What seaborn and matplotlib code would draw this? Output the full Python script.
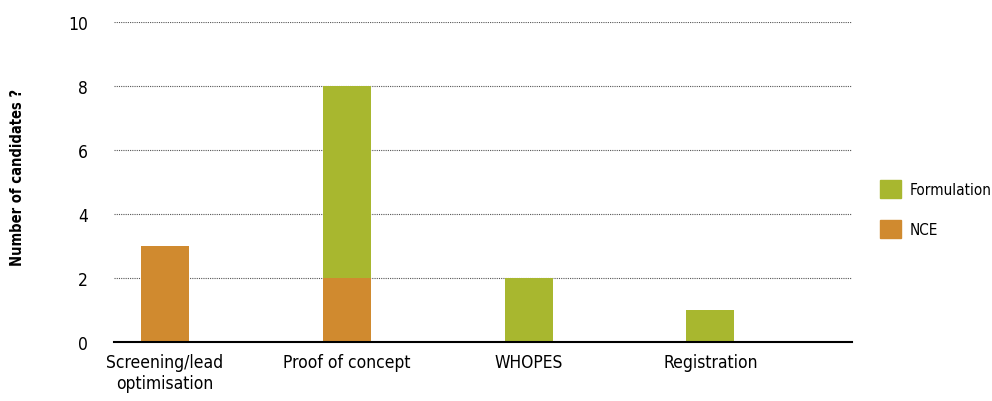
import matplotlib
matplotlib.use("Agg")
import matplotlib.pyplot as plt
import seaborn as sns
import pandas as pd
from matplotlib.patches import Patch

stages = ["Screening/lead\noptimisation", "Proof of concept", "WHOPES", "Registration"]
nce = [3, 2, 0, 0]
formulation = [0, 6, 2, 1]

green = "#A8B72F"
orange = "#D08A2F"

sns.set_theme(style="white")
plt.rcParams['font.family'] = ['DejaVu Sans']
plt.rcParams['font.stretch'] = 'condensed'

df = pd.DataFrame({"stage": stages, "NCE": nce, "Formulation": formulation})
df["total"] = df["NCE"] + df["Formulation"]

fig = plt.figure(figsize=(9.92, 4.02), dpi=100)
ax = fig.add_axes([0.115, 0.147, 0.744, 0.796])

sns.barplot(data=df, x="stage", y="total", color=green, width=0.264,
            saturation=1, linewidth=0, edgecolor="none", ax=ax, zorder=3)
sns.barplot(data=df, x="stage", y="NCE", color=orange, width=0.264,
            saturation=1, linewidth=0, edgecolor="none", ax=ax, zorder=3)

ax.set_xlim(-0.28, 3.78)
ax.set_ylim(0, 10)
ax.set_yticks([0, 2, 4, 6, 8, 10])
for y in [2, 4, 6, 8, 10]:
    ax.axhline(y, color="#555555", lw=0.8, ls=(0, (1, 1)), zorder=1)

for s in ["top", "right", "left"]:
    ax.spines[s].set_visible(False)
ax.spines["bottom"].set_color("black")
ax.spines["bottom"].set_linewidth(1.5)
ax.spines["bottom"].set_zorder(4)

ax.tick_params(axis="both", length=0, labelsize=12.5, colors="black")
ax.tick_params(axis="y", pad=19)
ax.tick_params(axis="x", pad=8)
ax.set_xlabel("")
ax.set_ylabel("Number of candidates ?", fontsize=10.5, fontweight="bold",
              color="black")
ax.yaxis.set_label_coords(-0.121, 0.516)

handles = [Patch(color=green, label="Formulation"), Patch(color=orange, label="NCE")]
fig.legend(handles=handles, loc="center left", bbox_to_anchor=(0.887, 0.478),
           frameon=False, fontsize=11, handlelength=1.4, handleheight=1.4,
           handletextpad=0.55, labelspacing=1.45, labelcolor="black",
           borderpad=0, borderaxespad=0)

fig.savefig("out.png", dpi=100)
